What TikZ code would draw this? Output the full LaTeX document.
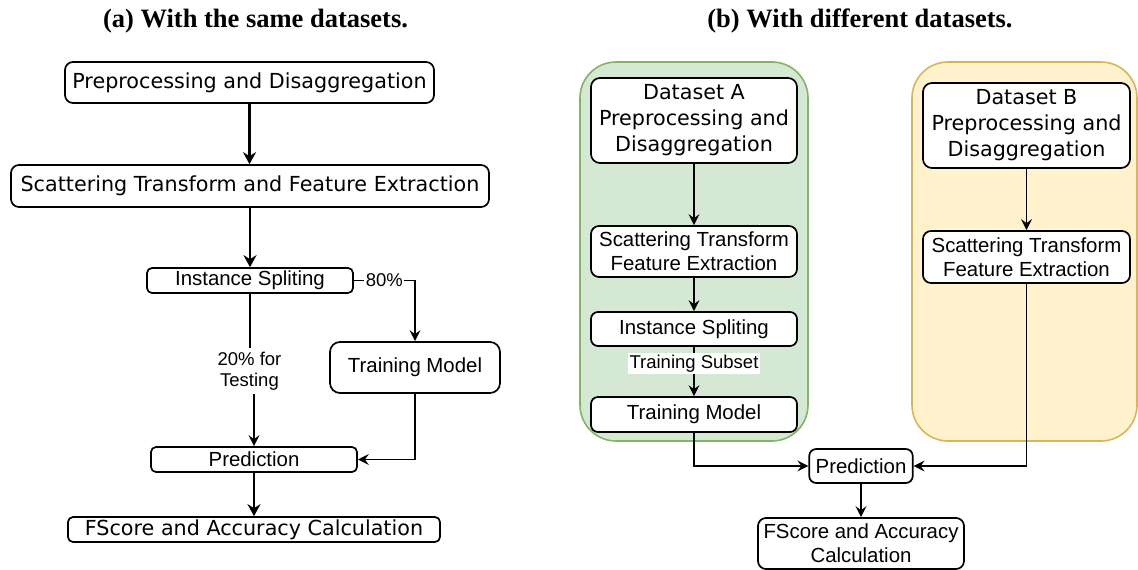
\documentclass[tikz,border=0pt]{standalone}
\usepackage{fontspec}
\setmainfont{Liberation Serif}
\newfontfamily\dvsans{DejaVu Sans}
\newfontfamily\lsans{Liberation Sans}
\usetikzlibrary{arrows.meta}
\definecolor{grfill}{HTML}{D5E8D4}
\definecolor{grline}{HTML}{82B366}
\definecolor{yefill}{HTML}{FFF2CC}
\definecolor{yeline}{HTML}{D6B656}
\tikzset{
  box/.style={draw=black, line width=1.7pt, rounded corners=6pt, fill=white, inner sep=0pt, align=center},
  dvtext/.style={font=\dvsans\fontsize{20.7}{26}\selectfont},
  lstext/.style={font=\lsans\fontsize{20.4}{24}\selectfont},
  lbl/.style={font=\lsans\fontsize{18.5}{21.5}\selectfont, align=center},
  lblfill/.style={lbl, fill=white, inner sep=1.5pt},
  flow/.style={line width=1.7pt, -{Stealth[length=11pt,width=11pt,inset=4pt]}},
  boldflow/.style={line width=2.7pt, -{Stealth[length=12pt,width=13pt,inset=4pt]}},
  plain/.style={line width=1.7pt},
  title/.style={font=\bfseries\fontsize{26.5}{30}\selectfont},
  grp/.style={line width=1.6pt, rounded corners=36pt, inner sep=0pt},
}
\begin{document}
\begin{tikzpicture}[x=1pt,y=-1pt]
\useasboundingbox (0,0) rectangle (1138,570);

% ---------- (a) same datasets ----------
\node[title] (titleA) at (255.5,21) {(a) With the same datasets.};

\node[box,dvtext,minimum width=369pt,minimum height=41pt,rounded corners=8pt] (preS) at (249.5,82.5) {Preprocessing and Disaggregation};
\node[box,dvtext,minimum width=478pt,minimum height=42pt,rounded corners=8pt] (scatS) at (250,186) {Scattering Transform and Feature Extraction};
\node[box,lstext,minimum width=206pt,minimum height=25pt,rounded corners=5pt] (splitS) at (250,280.5) {Instance Spliting};
\node[box,lstext,minimum width=170pt,minimum height=51pt,rounded corners=10pt] (trainS) at (415,367.5) {Training Model};
\node[box,lstext,minimum width=206pt,minimum height=25pt,rounded corners=5pt] (predS) at (254,459.5) {Prediction};
\node[box,dvtext,minimum width=372pt,minimum height=25pt,rounded corners=5pt] (scoreS) at (254,529.5) {FScore and Accuracy Calculation};
\node[lbl,inner sep=3pt] (testS) at (249.5,371) {20\% for\\Testing};

\draw[boldflow] (preS.south) -- (preS.south |- scatS.north);
\draw[boldflow] (scatS.south) -- (splitS.north);
\draw[flow] (splitS.east) -| node[lblfill,pos=0.25] {80\%} (trainS.north);
\draw[plain] (splitS.south) -- (splitS.south |- testS.north);
\draw[flow] (testS.south -| predS.north) -- (predS.north);
\draw[flow] (trainS.south) |- (predS.east);
\draw[boldflow] (predS.south) -- (scoreS.north);

% ---------- (b) different datasets ----------
\node[title] (titleB) at (860,21) {(b) With different datasets.};

\node[grp,draw=grline,fill=grfill,minimum width=228pt,minimum height=379pt] (grpA) at (694,251.5) {};
\node[grp,draw=yeline,fill=yefill,minimum width=225pt,minimum height=379pt] (grpB) at (1024.5,251.5) {};

\node[box,dvtext,minimum width=206pt,minimum height=85pt,rounded corners=9pt] (preDA) at (694,120.5) {Dataset A\\Preprocessing and\\Disaggregation};
\node[box,dvtext,minimum width=207pt,minimum height=85pt,rounded corners=9pt] (preDB) at (1026.5,125.5) {Dataset B\\Preprocessing and\\Disaggregation};
\node[box,lstext,minimum width=206pt,minimum height=51pt,rounded corners=8pt] (scatDA) at (694,251.5) {Scattering Transform\\Feature Extraction};
\node[box,lstext,minimum width=207pt,minimum height=52pt,rounded corners=8pt] (scatDB) at (1026.5,257) {Scattering Transform\\Feature Extraction};
\node[box,lstext,minimum width=206pt,minimum height=34pt,rounded corners=7pt] (splitDA) at (694,329) {Instance Spliting};
\node[box,lstext,minimum width=206pt,minimum height=35pt,rounded corners=7pt] (trainDA) at (694,414.5) {Training Model};
\node[box,lstext,minimum width=103.5pt,minimum height=34pt,rounded corners=7pt] (predD) at (861,466) {Prediction};
\node[box,lstext,minimum width=206pt,minimum height=51pt,rounded corners=8pt] (scoreD) at (861,543.5) {FScore and Accuracy\\Calculation};

\draw[flow] (preDA.south) -- (scatDA.north);
\draw[flow] (preDB.south) -- (scatDB.north);
\draw[flow] (scatDA.south) -- (splitDA.north);
\draw[flow] (splitDA.south) -- node[lblfill,pos=0.34,inner sep=2pt] {Training Subset} (trainDA.north);
\draw[flow] (trainDA.south) |- (predD.west);
\draw[flow] (scatDB.south) |- (predD.east);
\draw[flow] (predD.south) -- (scoreD.north);
\end{tikzpicture}
\end{document}
